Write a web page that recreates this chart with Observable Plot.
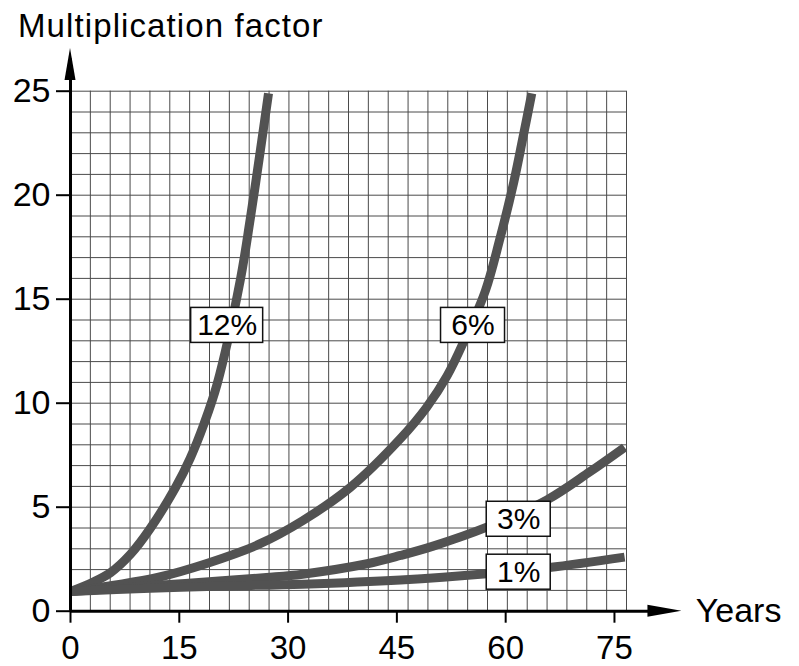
<!DOCTYPE html>
<html><head><meta charset="utf-8">
<script src="https://cdn.jsdelivr.net/npm/d3@7"></script>
<script src="https://cdn.jsdelivr.net/npm/@observablehq/plot@0.6"></script>
<style>
body{margin:0;background:#fff;}
#wrap{position:relative;width:799px;height:666px;font-family:"Liberation Sans",Arial,sans-serif;}
#title{position:absolute;z-index:2;left:18px;top:9px;font-size:33px;line-height:1;letter-spacing:1.1px;white-space:nowrap;color:#000;}
#wrap svg{position:absolute;left:0;top:0;z-index:1;}
</style></head><body>
<div id="wrap"><div id="title">Multiplication factor</div></div>
<script>
// ---- data ----
const years12   = [0, 3, 5.5, 8.3, 11, 14.5, 16.5, 18.4, 20.2, 23.4, 24.8, 26.2, 27.3];
const factors12 = [0.95, 1.38, 1.85, 2.75, 3.98, 5.96, 7.35, 9.0, 10.9, 15.9, 18.9, 22.2, 24.9];
const years6    = [0, 6, 12, 19, 26, 32, 38.6, 45.5, 49.1, 51.9, 54.4, 57.2, 59.2, 61.1, 62.4, 63.6];
const factors6  = [0.95, 1.25, 1.62, 2.32, 3.22, 4.35, 5.96, 8.3, 9.8, 11.3, 13.1, 15.4, 17.9, 20.6, 22.8, 24.9];
const years3    = [0, 5, 11, 20, 27, 32, 40.9, 45.5, 50, 57.4, 65.7, 71.6, 76.4];
const factors3  = [0.95, 1.07, 1.22, 1.44, 1.62, 1.78, 2.28, 2.68, 3.13, 4.04, 5.35, 6.7, 7.88];
const years1    = [0, 11, 20, 32, 45.5, 57.4, 66, 76.4];
const factors1  = [0.95, 1.1, 1.2, 1.3, 1.5, 1.8, 2.1, 2.6];

const labelText    = ["12%", "6%", "3%", "1%"];
const labelYears   = [21.6, 55.5, 61.8, 61.8];
const labelFactors = [13.74, 13.74, 4.42, 1.875];

const xTicks = [0, 15, 30, 45, 60, 75];
const yTicks = [0, 5, 10, 15, 20, 25];
const gridRight = 76.66;           // right edge of the graph paper (years)
const gridX = d3.range(29).map(i => i * gridRight / 28);
const gridY = d3.range(1, 26);
const axisEndX = 84.3, axisEndY = 27.05;

// ---- tables ----
const series = [
  ["12%", years12, factors12],
  ["6%", years6, factors6],
  ["3%", years3, factors3],
  ["1%", years1, factors1]
];
const curves = series.flatMap(([rate, ys, fs]) => ys.map((yr, i) => ({rate, year: yr, factor: fs[i]})));
const labels = labelText.map((t, i) => ({text: t, year: labelYears[i], factor: labelFactors[i]}));

function labelBoxes(index, scales) {
  const g = d3.create("svg:g");
  labels.forEach(d => {
    const w = 64 + (d.text.length - 2) * 8, h = 35;
    g.append("rect")
      .attr("x", scales.x(d.year) - w / 2).attr("y", scales.y(d.factor) - h / 2)
      .attr("width", w).attr("height", h)
      .attr("fill", "white").attr("stroke", "#111").attr("stroke-width", 1.5);
  });
  return g.node();
}

function arrowHeads(index, scales) {
  const g = d3.create("svg:g");
  const tx = scales.x(axisEndX), ty0 = scales.y(0);
  g.append("path").attr("d", `M${tx},${ty0}L${tx - 34},${ty0 - 6}L${tx - 34},${ty0 + 6}Z`).attr("fill", "#000");
  const ax = scales.x(0), ty = scales.y(axisEndY);
  g.append("path").attr("d", `M${ax},${ty}L${ax - 5.5},${ty + 32}L${ax + 5.5},${ty + 32}Z`).attr("fill", "#000");
  return g.node();
}

const chart = Plot.plot({
  width: 799,
  height: 666,
  marginLeft: 70,
  marginRight: 173,
  marginTop: 90.7,
  marginBottom: 55.3,
  style: {fontFamily: '"Liberation Sans", Arial, sans-serif', color: "#000", background: "white"},
  x: {domain: [0, gridRight]},
  y: {domain: [0, 25]},
  marks: [
    Plot.ruleX(gridX, {y1: 0, y2: 25, stroke: "#4a4a4a", strokeWidth: 1}),
    Plot.ruleY(gridY, {x1: 0, x2: gridRight, stroke: "#4a4a4a", strokeWidth: 1}),
    Plot.line(curves, {x: "year", y: "factor", z: "rate", stroke: "#525252", strokeWidth: 9, curve: "catmull-rom", strokeLinecap: "butt"}),
    labelBoxes,
    Plot.text(labels, {x: "year", y: "factor", text: "text", fontSize: 30, fill: "#000"}),
    Plot.ruleY([0], {x1: 0, x2: axisEndX - 2, stroke: "#000", strokeWidth: 3}),
    Plot.ruleX([0], {y1: 0, y2: axisEndY - 0.5, stroke: "#000", strokeWidth: 3}),
    arrowHeads,
    Plot.axisX({ticks: xTicks, tickSize: 12, tickPadding: 12, fontSize: 33, strokeWidth: 2, label: null}),
    Plot.axisY({ticks: yTicks, tickSize: 14, tickPadding: 6, fontSize: 34, strokeWidth: 2, label: null}),
    Plot.text(["Years"], {x: axisEndX + 1.9, y: 0, text: d => d, textAnchor: "start", fontSize: 34, fill: "#000"})
  ]
});
document.getElementById("wrap").appendChild(chart);
</script>
</body></html>
